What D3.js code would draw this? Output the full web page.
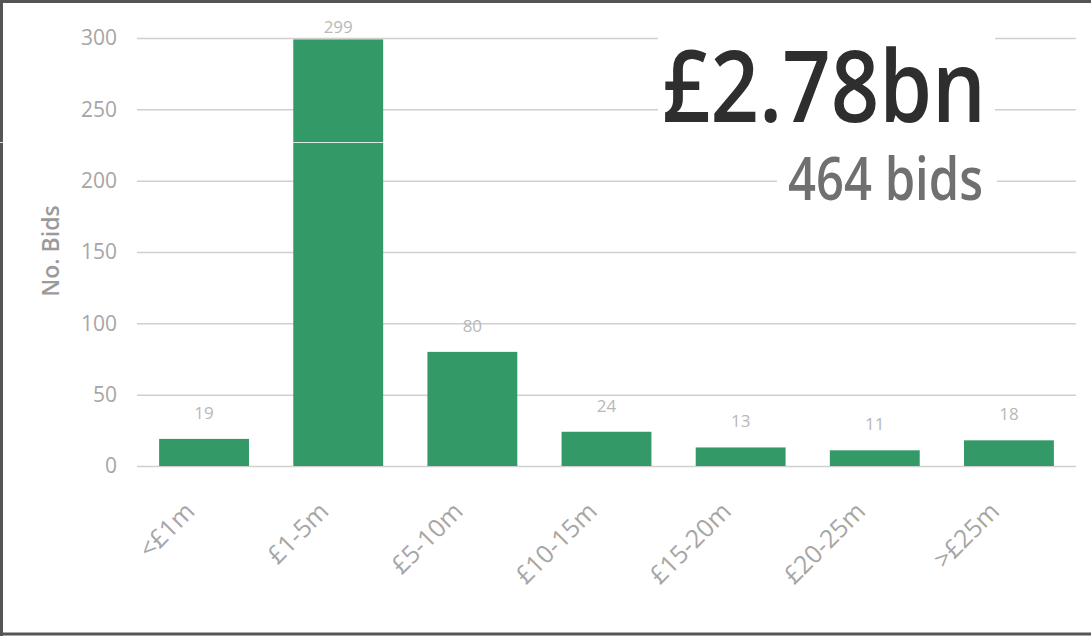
<!DOCTYPE html>
<html>
<head>
<meta charset="utf-8">
<script src="https://cdn.jsdelivr.net/npm/d3@7"></script>
<style>
    body { margin: 0; background: #fff; }
    #chart { width: 1091px; height: 636px; }
    text { font-family: "Open Sans", "Noto Sans", sans-serif; }
</style>
</head>
<body>
<div id="chart"></div>
<script>

// bid value bands and counts
let bands = ["<£1m", "£1-5m", "£5-10m", "£10-15m", "£15-20m", "£20-25m", ">£25m"];
let bids = [19, 299, 80, 24, 13, 11, 18];
let yTicks = [0, 50, 100, 150, 200, 250, 300];

let totalValue = "£2.78bn";
let totalBids = "464 bids";

let W = 1091, H = 636;
let margin = {top: 38, right: 15, bottom: 170, left: 137};

let svg = d3.select("#chart").append("svg")
    .attr("width", W)
    .attr("height", H);

// outer frame
svg.append("path")
    .attr("d", `M1.5,${H} L1.5,1.5 L${W},1.5`)
    .attr("fill", "none")
    .attr("stroke", "#555")
    .attr("stroke-width", 3);
svg.append("line")
    .attr("x1", 0).attr("x2", W)
    .attr("y1", H - 2).attr("y2", H - 2)
    .attr("stroke", "#555")
    .attr("stroke-width", 3);

let x = d3.scaleBand()
    .domain(bands)
    .range([margin.left, 1076])
    .paddingInner(0.33)
    .paddingOuter(0.165);

let y = d3.scaleLinear()
    .domain([0, 300])
    .range([466, margin.top]);

// gridlines + y tick labels
let yAxis = svg.append("g")
    .attr("transform", `translate(${margin.left},0)`)
    .call(d3.axisLeft(y).tickValues(yTicks).tickSize(-(1076 - margin.left)).tickPadding(20));
yAxis.select(".domain").remove();
yAxis.selectAll(".tick line").attr("stroke", "#d0d0d0").attr("stroke-width", 1.5);
yAxis.selectAll(".tick text")
    .attr("fill", "#a6a6a6")
    .style("font-size", "21px");

// y title
svg.append("text")
    .attr("transform", `translate(59,251) rotate(-90)`)
    .attr("text-anchor", "middle")
    .attr("fill", "#9a9a9a")
    .style("font-size", "23px")
    .style("font-weight", 600)
    .text("No. Bids");

// bars
svg.selectAll("rect.bar")
    .data(bands)
    .enter().append("rect")
    .attr("class", "bar")
    .attr("x", d => x(d))
    .attr("width", x.bandwidth())
    .attr("y", (d, i) => y(bids[i]))
    .attr("height", (d, i) => y(0) - y(bids[i]))
    .attr("fill", "#339966");

// value labels
svg.selectAll("text.val")
    .data(bands)
    .enter().append("text")
    .attr("class", "val")
    .attr("x", d => x(d) + x.bandwidth() / 2)
    .attr("y", (d, i) => Math.max(y(bids[i]) - 20, 33))
    .attr("text-anchor", "middle")
    .attr("fill", "#b8b8b8")
    .style("font-size", "17px")
    .text((d, i) => bids[i]);

// x labels, rotated
let xAxis = svg.append("g")
    .attr("transform", `translate(0,${y(0)})`)
    .call(d3.axisBottom(x).tickSize(0).tickPadding(0));
xAxis.select(".domain").remove();
xAxis.selectAll(".tick text")
    .attr("fill", "#a6a6a6")
    .style("font-size", "25px")
    .attr("text-anchor", "end")
    .attr("dy", 0)
    .attr("transform", "translate(-8,47) rotate(-45)");

// headline totals with white boxes breaking the gridlines
svg.append("rect")
    .attr("x", 658).attr("y", 30).attr("width", 337).attr("height", 100)
    .attr("fill", "#fff");
svg.append("text")
    .attr("x", 662).attr("y", 122)
    .attr("fill", "#2e2e2e")
    .attr("textLength", 324)
    .attr("lengthAdjust", "spacingAndGlyphs")
    .style("font-size", "100px")
    .style("font-weight", 600)
    .text(totalValue);

svg.append("rect")
    .attr("x", 777).attr("y", 150).attr("width", 220).attr("height", 60)
    .attr("fill", "#fff");
svg.append("text")
    .attr("x", 788).attr("y", 200)
    .attr("fill", "#707070")
    .attr("textLength", 195)
    .attr("lengthAdjust", "spacingAndGlyphs")
    .style("font-size", "59px")
    .style("font-weight", 600)
    .text(totalBids);

// scan seam across the picture
svg.append("line")
    .attr("x1", 0).attr("x2", W)
    .attr("y1", 142.5).attr("y2", 142.5)
    .attr("stroke", "#fff")
    .attr("stroke-opacity", 0.8)
    .attr("stroke-width", 1);

</script>
</body>
</html>
